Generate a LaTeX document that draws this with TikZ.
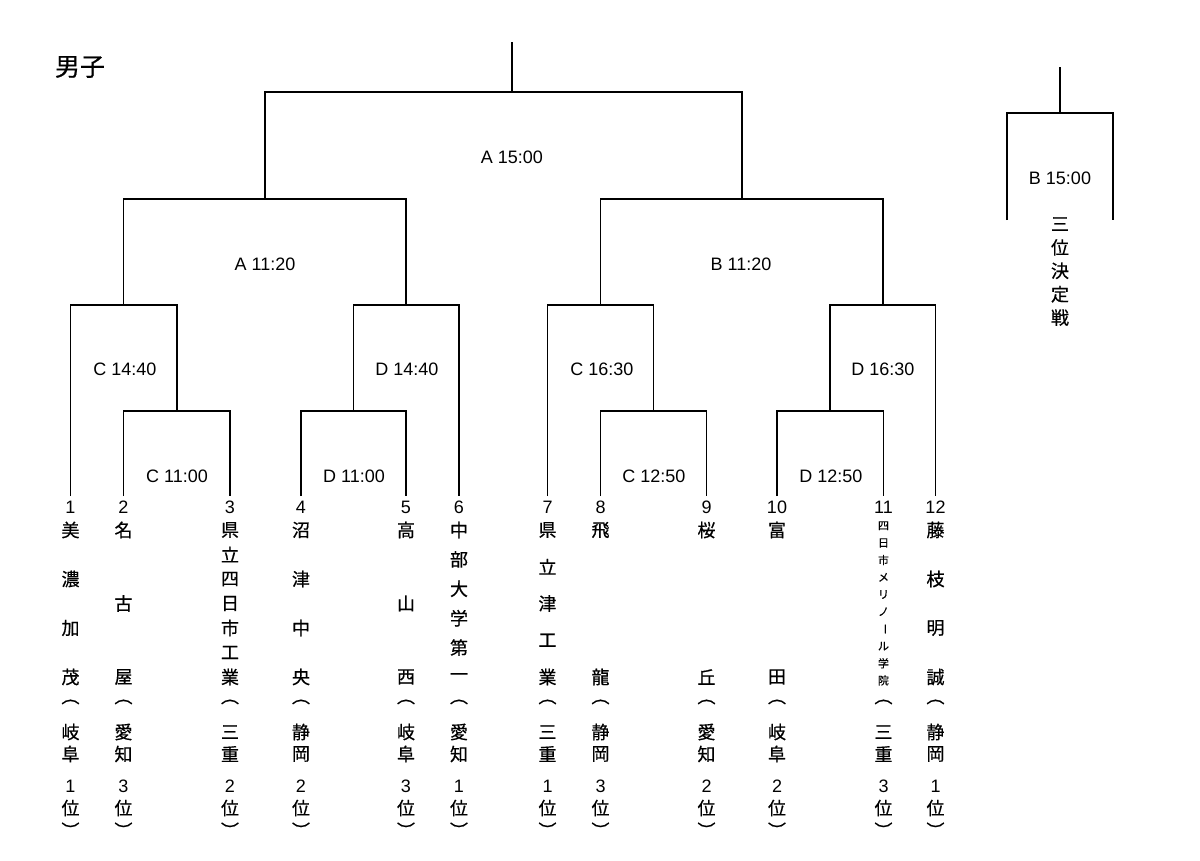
\documentclass[tikz,border=0pt]{standalone}
\usepackage{fontspec}
\setmainfont{Liberation Sans}
\newfontfamily\jp[FakeBold=0.6]{Noto Sans CJK JP}
\newcommand\teamcol[7]{%
  \node[num] (n#1) at (#2,507) {#1};
  \foreach \c [count=\i] in {#4} {
    \pgfmathsetmacro\yy{530+(\i-1)*147/(#3-1)}
    \node[jc] (t#1-\i) at (#2,\yy) {\c};
  }
  \node[jc] (po#1) at (#2,702) {︵};
  \node[jc] (pa#1) at (#2,732) {#5};
  \node[jc] (pb#1) at (#2,754) {#6};
  \node[num] (r#1) at (#2,786) {#7};
  \node[jc] (i#1) at (#2,808) {位};
  \node[jc] (pc#1) at (#2,830) {︶};
}
\begin{document}
\begin{tikzpicture}[x=1pt,y=-1pt, line width=1.7pt,
  br/.style={draw, line join=miter},
  lbl/.style={font=\fontsize{18}{20}\selectfont, inner sep=0pt},
  jc/.style={font=\jp\fontsize{18}{20}\selectfont, inner sep=0pt},
  jsmall/.style={font=\jp\fontsize{11}{12}\selectfont, inner sep=0pt},
  num/.style={font=\fontsize{18}{20}\selectfont, inner sep=0pt},
  ttl/.style={font=\jp\fontsize{25}{28}\selectfont, inner sep=0pt}]
\useasboundingbox (0,0) rectangle (1200,860);
\node[ttl] (title) at (80,67) {男子};
% leaves
\coordinate (L1) at (70.5,496);
\coordinate (L2) at (123.5,496);
\coordinate (L3) at (230,496);
\coordinate (L4) at (301,496);
\coordinate (L5) at (406,496);
\coordinate (L6) at (459,496);
\coordinate (L7) at (547.5,496);
\coordinate (L8) at (600.5,496);
\coordinate (L9) at (706.5,496);
\coordinate (L10) at (777,496);
\coordinate (L11) at (883.5,496);
\coordinate (L12) at (935.5,496);
% joins
\coordinate (m23) at (176.75,411);
\coordinate (m123) at (123.5,305);
\coordinate (m45) at (353.5,411);
\coordinate (m456) at (406,305);
\coordinate (mA) at (264.75,199);
\coordinate (m89) at (653.5,411);
\coordinate (m789) at (600.5,305);
\coordinate (m1011) at (830.25,411);
\coordinate (m101112) at (882.9,305);
\coordinate (mB) at (741.7,199);
\coordinate (top) at (512,92);
\coordinate (topend) at (512,42);
% brackets
\draw[br] (L2) |- (m23) -| (L3);
\draw[br] (L1) |- (m123) -| (m23);
\draw[br] (L4) |- (m45) -| (L5);
\draw[br] (m45) |- (m456) -| (L6);
\draw[br] (m123) |- (mA) -| (m456);
\draw[br] (L8) |- (m89) -| (L9);
\draw[br] (L7) |- (m789) -| (m89);
\draw[br] (L10) |- (m1011) -| (L11);
\draw[br] (m1011) |- (m101112) -| (L12);
\draw[br] (m789) |- (mB) -| (m101112);
\draw[br] (mA) |- (top) -| (mB);
\draw[br] (top) -- (topend);
% third place
\coordinate (tp) at (1060,113);
\coordinate (tpend) at (1060,67);
\coordinate (tpL) at (1007,220);
\coordinate (tpR) at (1113,220);
\draw[br] (tpL) |- (tp) -| (tpR);
\draw[br] (tp) -- (tpend);
\node[lbl] (gB15) at (1060,178) {B 15:00};
\foreach \c [count=\i] in {三,位,決,定,戦} {
  \node[jc] (tpt\i) at (1060,{224+(\i-1)*23.4}) {\c};
}
% match labels
\node[lbl] (gA15) at (512,157) {A 15:00};
\node[lbl] (gA1120) at (265,264) {A 11:20};
\node[lbl] (gB1120) at (741,264) {B 11:20};
\node[lbl] (gC1440) at (125,369) {C 14:40};
\node[lbl] (gD1440) at (407,369) {D 14:40};
\node[lbl] (gC1630) at (602,369) {C 16:30};
\node[lbl] (gD1630) at (883,369) {D 16:30};
\node[lbl] (gC1100) at (177,476) {C 11:00};
\node[lbl] (gD1100) at (354,476) {D 11:00};
\node[lbl] (gC1250) at (654,476) {C 12:50};
\node[lbl] (gD1250) at (831,476) {D 12:50};
% teams
\teamcol{1}{70.5}{4}{美,濃,加,茂}{岐}{阜}{1}
\teamcol{2}{123.5}{3}{名,古,屋}{愛}{知}{3}
\teamcol{3}{230}{7}{県,立,四,日,市,工,業}{三}{重}{2}
\teamcol{4}{301}{4}{沼,津,中,央}{静}{岡}{2}
\teamcol{5}{406}{3}{高,山,西}{岐}{阜}{3}
\teamcol{6}{459}{6}{中,部,大,学,第,一}{愛}{知}{1}
\teamcol{7}{547.5}{5}{県,立,津,工,業}{三}{重}{1}
\teamcol{8}{600.5}{2}{飛,龍}{静}{岡}{3}
\teamcol{9}{706.5}{2}{桜,丘}{愛}{知}{2}
\teamcol{10}{777}{2}{富,田}{岐}{阜}{2}
\teamcol{12}{935.5}{4}{藤,枝,明,誠}{静}{岡}{1}
% team 11
\node[num] (n11) at (883.5,507) {11};
\foreach \c [count=\i] in {四,日,市,メ,リ,ノ} {
  \node[jsmall] (t11-\i) at (883.5,{525.7+(\i-1)*17.2}) {\c};
}
\node[jsmall, rotate=-90] (t11-7) at (883.5,628.9) {ー};
\foreach \c [count=\i from 8] in {ル,学,院} {
  \node[jsmall] (t11-\i) at (883.5,{525.7+(\i-1)*17.2}) {\c};
}
\node[jc] (po11) at (883.5,702) {︵};
\node[jc] (pa11) at (883.5,732) {三};
\node[jc] (pb11) at (883.5,754) {重};
\node[num] (r11) at (883.5,786) {3};
\node[jc] (i11) at (883.5,808) {位};
\node[jc] (pc11) at (883.5,830) {︶};
\end{tikzpicture}
\end{document}
